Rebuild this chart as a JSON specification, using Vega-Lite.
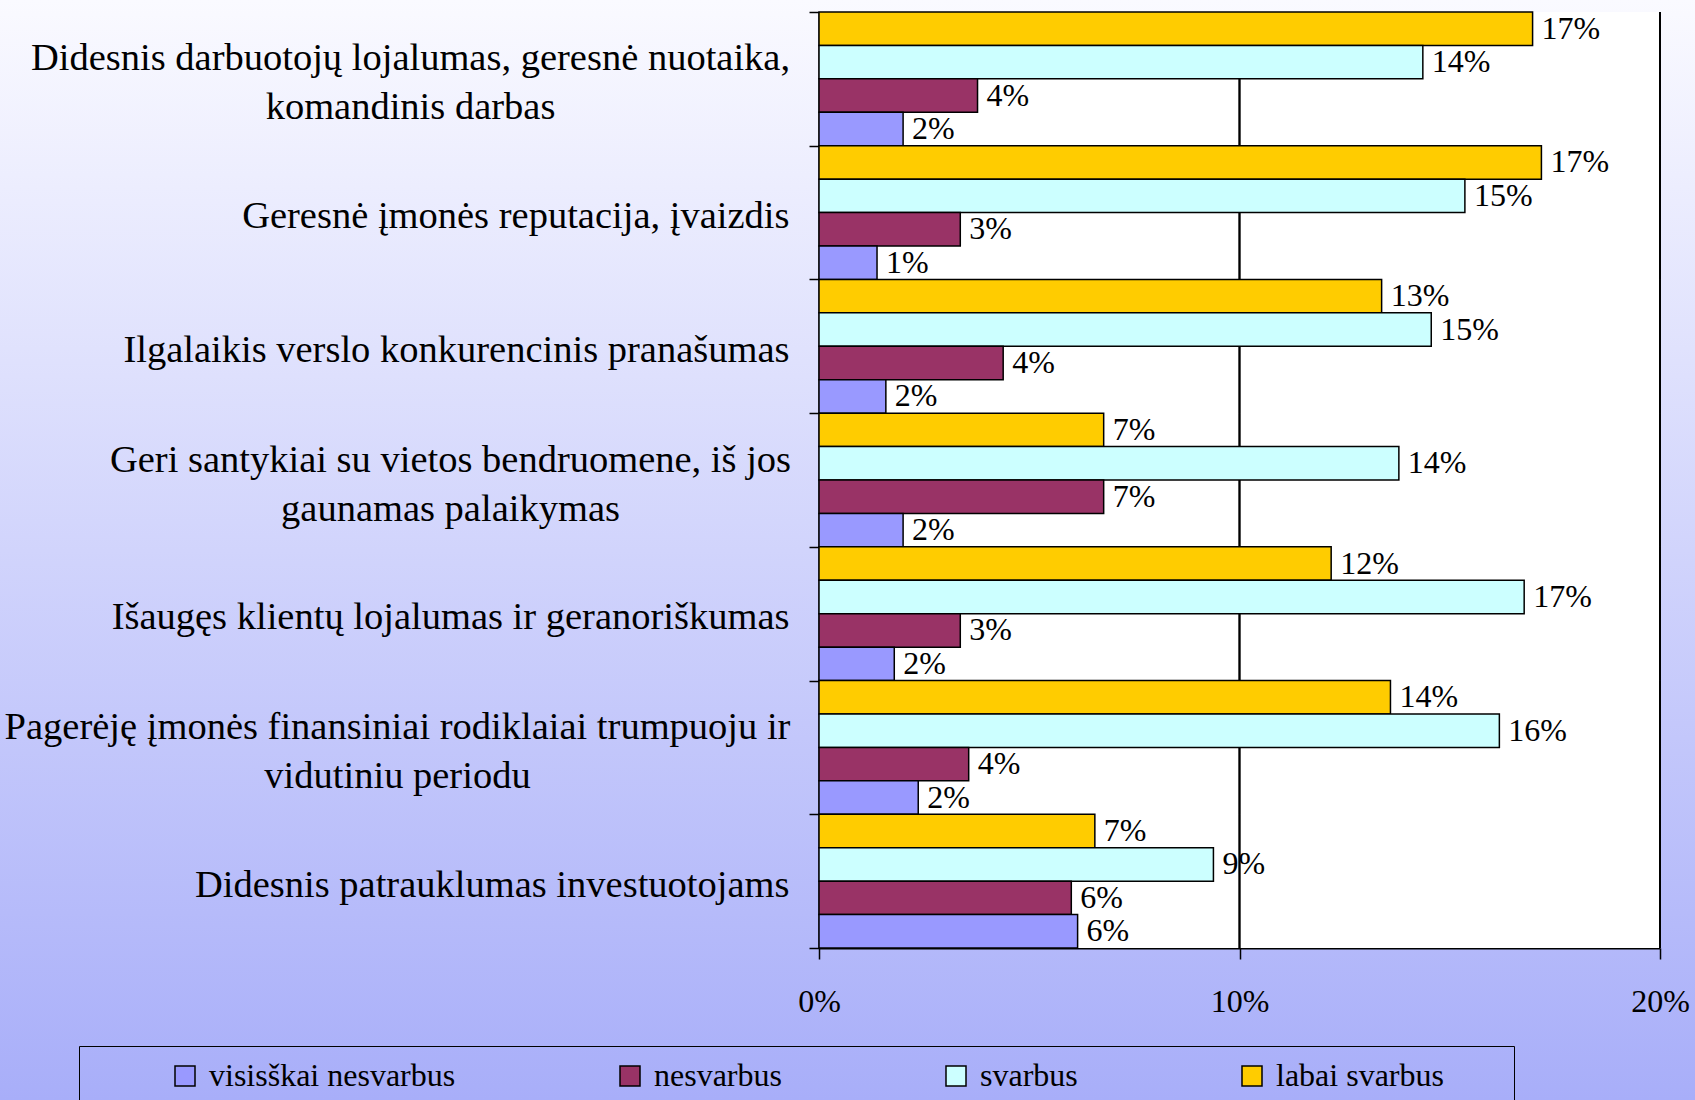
{
  "$schema": "https://vega.github.io/schema/vega-lite/v6.json",
  "width": 1695,
  "height": 1100,
  "padding": 0,
  "autosize": {"type": "none"},
  "background": "#D4D6FC",
  "view": {
    "stroke": null,
    "fill": {"gradient": "linear", "x1": 0, "y1": 0, "x2": 0, "y2": 1,
      "stops": [{"offset": 0, "color": "#FAFAFF"}, {"offset": 1, "color": "#A8AEF9"}]}
  },
  "config": {
    "font": "Liberation Serif",
    "axisX": {
      "offset": -152,
      "grid": false,
      "domainColor": "black",
      "domainWidth": 2,
      "tickColor": "black",
      "tickWidth": 1.5,
      "tickSize": 11,
      "labelFont": "Liberation Serif",
      "labelFontSize": 32,
      "labelColor": "black",
      "labelPadding": 27,
      "labelFlush": false,
      "labelOverlap": false
    }
  },
  "data": {"values": [
    {"kategorija": "Didesnis darbuotojų lojalumas, geresnė nuotaika, komandinis darbas", "vertinimas": "labai svarbus", "dalis": 0.1697},
    {"kategorija": "Didesnis darbuotojų lojalumas, geresnė nuotaika, komandinis darbas", "vertinimas": "svarbus", "dalis": 0.1436},
    {"kategorija": "Didesnis darbuotojų lojalumas, geresnė nuotaika, komandinis darbas", "vertinimas": "nesvarbus", "dalis": 0.0377},
    {"kategorija": "Didesnis darbuotojų lojalumas, geresnė nuotaika, komandinis darbas", "vertinimas": "visisškai nesvarbus", "dalis": 0.0200},
    {"kategorija": "Geresnė įmonės reputacija, įvaizdis", "vertinimas": "labai svarbus", "dalis": 0.1718},
    {"kategorija": "Geresnė įmonės reputacija, įvaizdis", "vertinimas": "svarbus", "dalis": 0.1536},
    {"kategorija": "Geresnė įmonės reputacija, įvaizdis", "vertinimas": "nesvarbus", "dalis": 0.0336},
    {"kategorija": "Geresnė įmonės reputacija, įvaizdis", "vertinimas": "visisškai nesvarbus", "dalis": 0.0138},
    {"kategorija": "Ilgalaikis verslo konkurencinis pranašumas", "vertinimas": "labai svarbus", "dalis": 0.1338},
    {"kategorija": "Ilgalaikis verslo konkurencinis pranašumas", "vertinimas": "svarbus", "dalis": 0.1456},
    {"kategorija": "Ilgalaikis verslo konkurencinis pranašumas", "vertinimas": "nesvarbus", "dalis": 0.0438},
    {"kategorija": "Ilgalaikis verslo konkurencinis pranašumas", "vertinimas": "visisškai nesvarbus", "dalis": 0.0159},
    {"kategorija": "Geri santykiai su vietos bendruomene, iš jos gaunamas palaikymas", "vertinimas": "labai svarbus", "dalis": 0.0677},
    {"kategorija": "Geri santykiai su vietos bendruomene, iš jos gaunamas palaikymas", "vertinimas": "svarbus", "dalis": 0.1379},
    {"kategorija": "Geri santykiai su vietos bendruomene, iš jos gaunamas palaikymas", "vertinimas": "nesvarbus", "dalis": 0.0677},
    {"kategorija": "Geri santykiai su vietos bendruomene, iš jos gaunamas palaikymas", "vertinimas": "visisškai nesvarbus", "dalis": 0.0200},
    {"kategorija": "Išaugęs klientų lojalumas ir geranoriškumas", "vertinimas": "labai svarbus", "dalis": 0.1218},
    {"kategorija": "Išaugęs klientų lojalumas ir geranoriškumas", "vertinimas": "svarbus", "dalis": 0.1677},
    {"kategorija": "Išaugęs klientų lojalumas ir geranoriškumas", "vertinimas": "nesvarbus", "dalis": 0.0336},
    {"kategorija": "Išaugęs klientų lojalumas ir geranoriškumas", "vertinimas": "visisškai nesvarbus", "dalis": 0.0179},
    {"kategorija": "Pagerėję įmonės finansiniai rodiklaiai trumpuoju ir vidutiniu periodu", "vertinimas": "labai svarbus", "dalis": 0.1359},
    {"kategorija": "Pagerėję įmonės finansiniai rodiklaiai trumpuoju ir vidutiniu periodu", "vertinimas": "svarbus", "dalis": 0.1618},
    {"kategorija": "Pagerėję įmonės finansiniai rodiklaiai trumpuoju ir vidutiniu periodu", "vertinimas": "nesvarbus", "dalis": 0.0356},
    {"kategorija": "Pagerėję įmonės finansiniai rodiklaiai trumpuoju ir vidutiniu periodu", "vertinimas": "visisškai nesvarbus", "dalis": 0.0236},
    {"kategorija": "Didesnis patrauklumas investuotojams", "vertinimas": "labai svarbus", "dalis": 0.0656},
    {"kategorija": "Didesnis patrauklumas investuotojams", "vertinimas": "svarbus", "dalis": 0.0938},
    {"kategorija": "Didesnis patrauklumas investuotojams", "vertinimas": "nesvarbus", "dalis": 0.0600},
    {"kategorija": "Didesnis patrauklumas investuotojams", "vertinimas": "visisškai nesvarbus", "dalis": 0.0615}
  ]},
  "encoding": {
    "y": {
      "field": "kategorija",
      "type": "nominal",
      "sort": null,
      "scale": {
        "domain": [
          "Didesnis darbuotojų lojalumas, geresnė nuotaika, komandinis darbas",
          "Geresnė įmonės reputacija, įvaizdis",
          "Ilgalaikis verslo konkurencinis pranašumas",
          "Geri santykiai su vietos bendruomene, iš jos gaunamas palaikymas",
          "Išaugęs klientų lojalumas ir geranoriškumas",
          "Pagerėję įmonės finansiniai rodiklaiai trumpuoju ir vidutiniu periodu",
          "Didesnis patrauklumas investuotojams"
        ],
        "range": [12, 948],
        "paddingInner": 0,
        "paddingOuter": 0
      },
      "axis": {
        "orient": "left",
        "offset": -819,
        "title": null,
        "grid": false,
        "domainColor": "black",
        "domainWidth": 2,
        "tickColor": "black",
        "tickWidth": 1.5,
        "tickSize": 10,
        "tickBand": "extent",
        "labelFont": "Liberation Serif",
        "labelFontSize": 38.5,
        "labelColor": "black",
        "labelLimit": 1000,
        "labelLineHeight": 49,
        "labelBaseline": "middle",
        "labelExpr": "datum.value == 'Didesnis darbuotojų lojalumas, geresnė nuotaika, komandinis darbas' ? ['Didesnis darbuotojų lojalumas, geresnė nuotaika,', 'komandinis darbas'] : datum.value == 'Geri santykiai su vietos bendruomene, iš jos gaunamas palaikymas' ? ['Geri santykiai su vietos bendruomene, iš jos', 'gaunamas palaikymas'] : datum.value == 'Pagerėję įmonės finansiniai rodiklaiai trumpuoju ir vidutiniu periodu' ? ['Pagerėję įmonės finansiniai rodiklaiai trumpuoju ir', 'vidutiniu periodu'] : datum.label",
        "labelAlign": {
          "condition": {"test": "indexof(['Didesnis darbuotojų lojalumas, geresnė nuotaika, komandinis darbas', 'Geri santykiai su vietos bendruomene, iš jos gaunamas palaikymas', 'Pagerėję įmonės finansiniai rodiklaiai trumpuoju ir vidutiniu periodu'], datum.value) >= 0", "value": "center"},
          "value": "right"
        },
        "labelOffset": {
          "condition": {"test": "indexof(['Didesnis darbuotojų lojalumas, geresnė nuotaika, komandinis darbas', 'Geri santykiai su vietos bendruomene, iš jos gaunamas palaikymas', 'Pagerėję įmonės finansiniai rodiklaiai trumpuoju ir vidutiniu periodu'], datum.value) >= 0", "value": -21},
          "value": 3
        },
        "labelPadding": {
          "condition": [
            {"test": "datum.value == 'Didesnis darbuotojų lojalumas, geresnė nuotaika, komandinis darbas'", "value": 399},
            {"test": "datum.value == 'Geri santykiai su vietos bendruomene, iš jos gaunamas palaikymas'", "value": 359},
            {"test": "datum.value == 'Pagerėję įmonės finansiniai rodiklaiai trumpuoju ir vidutiniu periodu'", "value": 412}
          ],
          "value": 20
        }
      }
    }
  },
  "layer": [
    {
      "mark": {"type": "bar", "color": "white", "orient": "horizontal"},
      "encoding": {
        "x": {"datum": 0.2, "type": "quantitative", "axis": {"orient": "bottom", "values": [0, 0.1, 0.2], "format": ".0%", "title": null}}
      }
    },
    {
      "mark": {"type": "rect", "filled": false, "stroke": "black", "strokeWidth": 1.5},
      "encoding": {
        "x": {"datum": 0.1, "type": "quantitative", "axis": {"orient": "bottom", "values": [0, 0.1, 0.2], "format": ".0%", "title": null}},
        "x2": {"datum": 0.1}
      }
    },
    {
      "mark": {"type": "rect", "filled": false, "stroke": "black", "strokeWidth": 1.5},
      "encoding": {
        "x": {"datum": 0.2, "type": "quantitative", "axis": {"orient": "bottom", "values": [0, 0.1, 0.2], "format": ".0%", "title": null}},
        "x2": {"datum": 0.2}
      }
    },
    {
      "mark": {"type": "bar", "stroke": "black", "strokeWidth": 1.5, "orient": "horizontal"},
      "encoding": {
        "x": {
          "field": "dalis",
          "type": "quantitative",
          "scale": {"domain": [0, 0.2], "range": [819, 1660], "nice": false, "zero": true},
          "axis": {"orient": "bottom", "values": [0, 0.1, 0.2], "format": ".0%", "title": null}
        },
        "yOffset": {
          "field": "vertinimas",
          "type": "nominal",
          "scale": {"domain": ["labai svarbus", "svarbus", "nesvarbus", "visisškai nesvarbus"], "paddingInner": 0, "paddingOuter": 0}
        },
        "color": {
          "field": "vertinimas",
          "type": "nominal",
          "scale": {
            "domain": ["visisškai nesvarbus", "nesvarbus", "svarbus", "labai svarbus"],
            "range": ["#9999FF", "#993366", "#CCFFFF", "#FFCC00"]
          },
          "legend": {
            "orient": "none",
            "legendX": 79,
            "legendY": 1046,
            "direction": "horizontal",
            "columns": 4,
            "gridAlign": "none",
            "columnPadding": 158,
            "title": " ",
            "titleOrient": "left",
            "titlePadding": 76,
            "titleFontSize": 32,
            "padding": 14,
            "strokeColor": "black",
            "symbolType": "square",
            "symbolSize": 400,
            "symbolStrokeColor": "black",
            "symbolStrokeWidth": 1.5,
            "symbolOpacity": 1,
            "labelFont": "Liberation Serif",
            "labelFontSize": 32,
            "labelColor": "black",
            "labelOffset": 8,
            "labelLimit": 600,
            "labelExpr": "datum.label == 'labai svarbus' ? datum.label + '\u00a0\u00a0\u00a0\u00a0\u00a0\u00a0\u00a0\u200b' : datum.label"
          }
        }
      }
    },
    {
      "mark": {"type": "text", "align": "left", "baseline": "middle", "dx": 9, "font": "Liberation Serif", "fontSize": 32, "color": "black"},
      "encoding": {
        "x": {"field": "dalis", "type": "quantitative", "axis": {"orient": "bottom", "values": [0, 0.1, 0.2], "format": ".0%", "title": null}},
        "yOffset": {"field": "vertinimas", "type": "nominal"},
        "text": {"field": "dalis", "type": "quantitative", "format": ".0%"}
      }
    }
  ]
}
